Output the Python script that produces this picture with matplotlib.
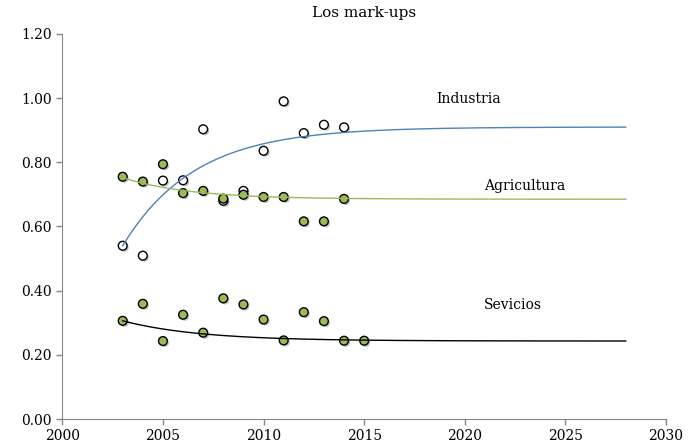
import numpy as np
import matplotlib
matplotlib.use("Agg")
import matplotlib.pyplot as plt
import matplotlib.patheffects as pe

plt.rcParams['font.family'] = ['DejaVu Serif']

# observed mark-ups by year
years_ind = [2003, 2004, 2005, 2006, 2007, 2008, 2009, 2010, 2011, 2012, 2013, 2014]
industria = [0.540, 0.509, 0.743, 0.744, 0.903, 0.680, 0.711, 0.836, 0.990, 0.891, 0.917, 0.909]

years_agr = [2003, 2004, 2005, 2006, 2007, 2008, 2009, 2010, 2011, 2012, 2013, 2014]
agricultura = [0.755, 0.740, 0.794, 0.704, 0.711, 0.687, 0.699, 0.692, 0.692, 0.616, 0.616, 0.686]

years_ser = [2003, 2004, 2005, 2006, 2007, 2008, 2009, 2010, 2011, 2012, 2013, 2014, 2015]
servicios = [0.306, 0.359, 0.243, 0.325, 0.269, 0.376, 0.357, 0.310, 0.245, 0.333, 0.305, 0.244, 0.244]

# trend: y = asym + (start - asym) * exp(-rate * (t - 2003))
trend_ind = (0.540, 0.910, 0.28)
trend_agr = (0.752, 0.685, 0.30)
trend_ser = (0.306, 0.243, 0.26)

xticks = [2000, 2005, 2010, 2015, 2020, 2025, 2030]
yticks = [0.0, 0.2, 0.4, 0.6, 0.8, 1.0, 1.2]

fig = plt.figure(figsize=(6.88, 4.48), dpi=100)
ax = fig.add_axes([0.0906, 0.0647, 0.8774, 0.8595])

t = np.linspace(2003, 2028, 300)
def trend(p):
    start, asym, rate = p
    return asym + (start - asym) * np.exp(-rate * (t - 2003))

shadow = [pe.SimplePatchShadow(offset=(1.2, -1.2), alpha=0.25, shadow_rgbFace='k'), pe.Normal()]

ax.scatter(years_ind, industria, s=40, facecolor='white', edgecolor='black',
           linewidth=1.0, zorder=3, path_effects=shadow)
ax.scatter(years_agr, agricultura, s=40, facecolor='#9BBB59', edgecolor='black',
           linewidth=1.0, zorder=3, path_effects=shadow)
ax.scatter(years_ser, servicios, s=40, facecolor='#9BBB59', edgecolor='black',
           linewidth=1.0, zorder=3, path_effects=shadow)

ax.plot(t, trend(trend_ind), color='#4F81BD', lw=1.0, zorder=4)
ax.plot(t, trend(trend_agr), color='#9BBB59', lw=1.0, zorder=4)
ax.plot(t, trend(trend_ser), color='black', lw=1.0, zorder=4)

ax.text(2020.2, 0.996, 'Industria', fontsize=10, ha='center', va='center')
ax.text(2023.0, 0.725, 'Agricultura', fontsize=10, ha='center', va='center')
ax.text(2022.4, 0.355, 'Sevicios', fontsize=10, ha='center', va='center')

ax.set_title('Los mark-ups', fontsize=11, pad=12)

ax.set_xlim(2000, 2030)
ax.set_ylim(0, 1.2)
ax.set_xticks(xticks)
ax.set_yticks(yticks)
ax.set_yticklabels(['%.2f' % v for v in yticks])
ax.tick_params(labelsize=10, color='#888888', length=4, width=1)
for s in ['top', 'right']:
    ax.spines[s].set_visible(False)
for s in ['left', 'bottom']:
    ax.spines[s].set_color('#888888')

fig.savefig('out.png', dpi=100)
